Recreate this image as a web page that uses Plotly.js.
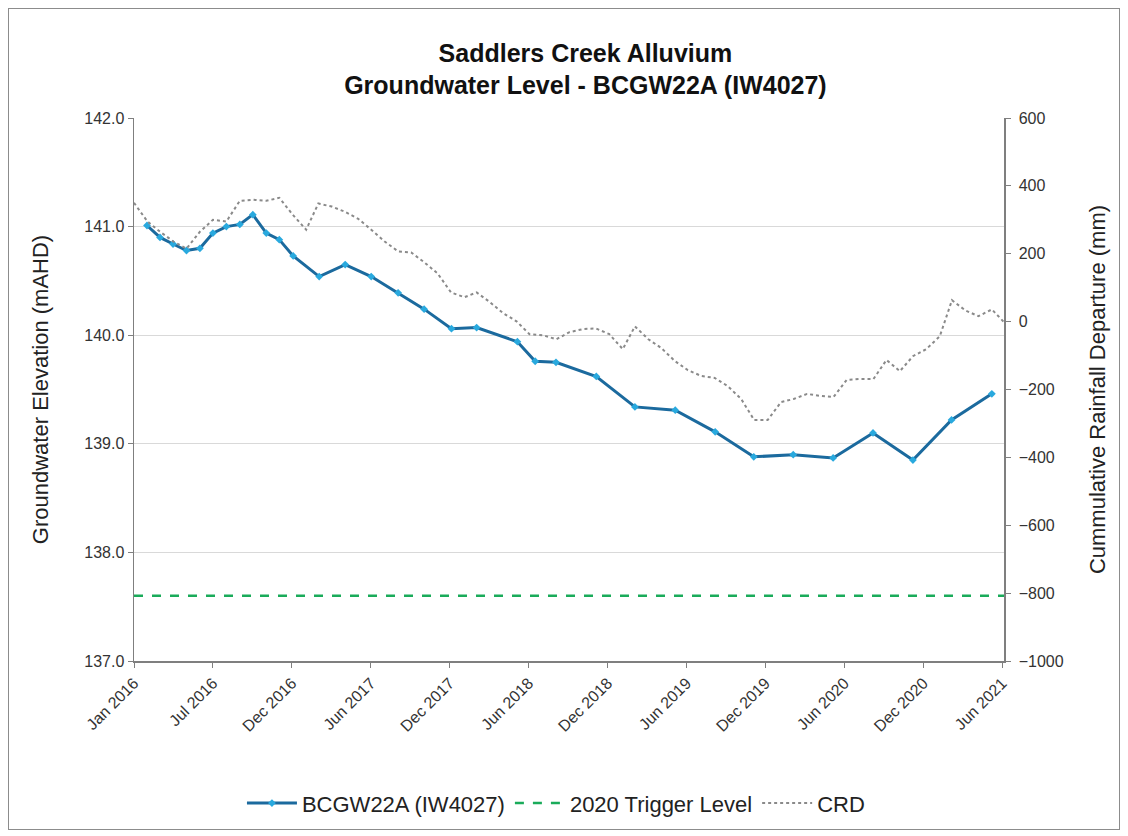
<!DOCTYPE html>
<html>
<head>
<meta charset="utf-8">
<script src="https://cdn.plot.ly/plotly-3.0.1.min.js"></script>
<style>
  html, body { margin: 0; padding: 0; background: #fff; }
  #chart { width: 1128px; height: 836px; position: absolute; left: 0; top: 0; }
  #frame { position: absolute; left: 8px; top: 8px; width: 1112px; height: 822px; border: 1px solid #8c8c8c; pointer-events: none; box-sizing: border-box; }
</style>
</head>
<body>
<div id="chart"></div>
<div id="frame"></div>
<script>
// Groundwater level BCGW22A (IW4027), mAHD
const gwDates = ['2016-01-31','2016-03-01','2016-03-31','2016-05-01','2016-06-01','2016-07-01','2016-08-01','2016-09-01','2016-10-01','2016-11-01','2016-12-01','2017-01-02','2017-03-03','2017-05-02','2017-07-01','2017-09-01','2017-10-31','2018-01-02','2018-03-01','2018-06-03','2018-07-14','2018-08-31','2018-12-02','2019-03-01','2019-06-02','2019-09-02','2019-11-30','2020-02-29','2020-05-31','2020-08-31','2020-12-01','2021-02-28','2021-06-01'];
const gwLevels = [141.01,140.90,140.84,140.78,140.80,140.94,141.00,141.02,141.11,140.94,140.88,140.73,140.54,140.65,140.54,140.39,140.24,140.06,140.07,139.94,139.76,139.75,139.62,139.34,139.31,139.11,138.88,138.90,138.87,139.10,138.85,139.22,139.46];

// 2020 trigger level, mAHD
const triggerDates = ['2016-01-01','2021-06-29'];
const triggerLevel = [137.6, 137.6];

// Cumulative rainfall departure, mm
const crdDates = ['2016-01-01','2016-02-01','2016-03-01','2016-04-01','2016-05-01','2016-06-01','2016-07-01','2016-08-01','2016-09-01','2016-10-01','2016-11-01','2016-12-01',
  '2017-01-01','2017-02-01','2017-03-01','2017-04-01','2017-05-01','2017-06-01','2017-07-01','2017-08-01','2017-09-01','2017-10-01','2017-11-01','2017-12-01',
  '2018-01-01','2018-02-01','2018-03-01','2018-04-01','2018-05-01','2018-06-01','2018-07-01','2018-08-01','2018-09-01','2018-10-01','2018-11-01','2018-12-01',
  '2019-01-01','2019-02-01','2019-03-01','2019-04-01','2019-05-01','2019-06-01','2019-07-01','2019-08-01','2019-09-01','2019-10-01','2019-11-01','2019-12-01',
  '2020-01-01','2020-02-01','2020-03-01','2020-04-01','2020-05-01','2020-06-01','2020-07-01','2020-08-01','2020-09-01','2020-10-01','2020-11-01','2020-12-01',
  '2021-01-01','2021-02-01','2021-03-01','2021-04-01','2021-05-01','2021-06-01','2021-06-28'];
const crdValues = [350,295,265,236,215,265,300,295,356,359,356,365,
  315,271,348,339,324,303,271,236,207,204,174,142,
  86,72,86,57,25,1,-37,-40,-52,-31,-22,-20,
  -37,-81,-14,-52,-78,-116,-143,-160,-166,-190,-228,-290,
  -290,-237,-228,-213,-219,-222,-172,-169,-169,-113,-146,-102,
  -81,-43,63,33,16,36,0];

// X-axis ticks
const tickDates = ['2016-01-01','2016-07-01','2016-12-30','2017-06-30','2017-12-29','2018-06-29','2018-12-28','2019-06-28','2019-12-27','2020-06-26','2020-12-25','2021-06-25'];
const tickLabels = ['Jan 2016','Jul 2016','Dec 2016','Jun 2017','Dec 2017','Jun 2018','Dec 2018','Jun 2019','Dec 2019','Jun 2020','Dec 2020','Jun 2021'];

const FONT = 'Liberation Sans, Arial, sans-serif';

const traces = [
  {
    x: gwDates, y: gwLevels, name: 'BCGW22A (IW4027)', type: 'scatter', mode: 'lines+markers',
    line: { color: '#1b6a9e', width: 3 },
    marker: { symbol: 'diamond', size: 6, color: '#29a9de' },
    yaxis: 'y'
  },
  {
    x: triggerDates, y: triggerLevel, name: '2020 Trigger Level', type: 'scatter', mode: 'lines',
    line: { color: '#1aab5a', width: 2.5, dash: 'dash' },
    yaxis: 'y'
  },
  {
    x: crdDates, y: crdValues, name: 'CRD', type: 'scatter', mode: 'lines',
    line: { color: '#8a8a8a', width: 2, dash: 'dot' },
    yaxis: 'y2'
  }
];

const layout = {
  width: 1128, height: 836,
  margin: { l: 134, r: 124, t: 118, b: 173 },
  paper_bgcolor: '#ffffff', plot_bgcolor: '#ffffff',
  font: { family: FONT, color: '#404040', size: 15 },
  title: {
    text: '<b>Saddlers Creek Alluvium</b><br><b>Groundwater Level - BCGW22A (IW4027)</b>',
    font: { family: FONT, size: 25, color: '#111' },
    x: 0.519, xanchor: 'center', y: 0.926, yanchor: 'middle'
  },
  showlegend: true,
  legend: {
    orientation: 'h', x: 0.485, xanchor: 'center', y: -0.262, yanchor: 'middle',
    font: { family: FONT, size: 22, color: '#222' },
    traceorder: 'normal', itemwidth: 50
  },
  xaxis: {
    type: 'date',
    range: ['2016-01-01', '2021-06-29'],
    tickmode: 'array', tickvals: tickDates, ticktext: tickLabels,
    tickangle: -45,
    ticks: 'outside', ticklen: 5, tickcolor: '#7f7f7f',
    showline: true, linecolor: '#7f7f7f', linewidth: 1.5,
    showgrid: false, zeroline: false,
    tickfont: { family: FONT, size: 16, color: '#333' }
  },
  yaxis: {
    range: [137, 142], dtick: 1, tick0: 137, tickformat: '.1f',
    ticks: 'outside', ticklen: 5, tickcolor: '#7f7f7f',
    showline: true, linecolor: '#7f7f7f', linewidth: 1.5,
    showgrid: true, gridcolor: '#d9d9d9', gridwidth: 1.2, zeroline: false,
    tickfont: { family: FONT, size: 16, color: '#333' },
    title: { text: 'Groundwater Elevation (mAHD)', font: { family: FONT, size: 22, color: '#222' }, standoff: 29 }
  },
  yaxis2: {
    overlaying: 'y', side: 'right',
    range: [-1000, 600], dtick: 200, tick0: -1000,
    ticks: 'outside', ticklen: 5, tickcolor: '#7f7f7f',
    showline: true, linecolor: '#7f7f7f', linewidth: 1.5,
    showgrid: false, zeroline: false, ticklabelstandoff: 5,
    tickfont: { family: FONT, size: 16, color: '#333' },
    title: { text: 'Cummulative Rainfall Departure (mm)', font: { family: FONT, size: 22, color: '#222' }, standoff: 27 }
  }
};

Plotly.newPlot('chart', traces, layout, { displayModeBar: false, staticPlot: true });
</script>
</body>
</html>
